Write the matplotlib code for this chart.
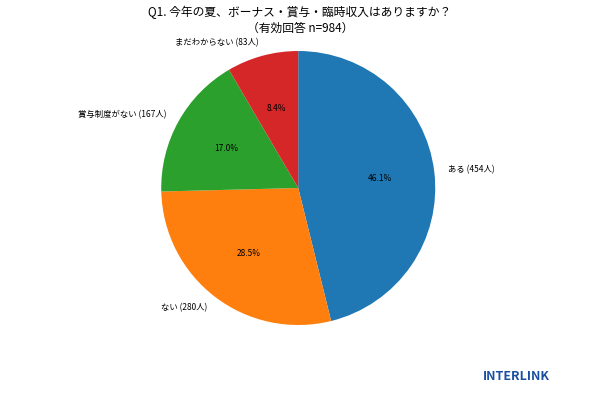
import matplotlib
matplotlib.use("Agg")
import matplotlib.pyplot as plt

plt.rcParams['font.family'] = ['Noto Sans CJK JP', 'DejaVu Sans']

labels = ["ある (454人)", "ない (280人)", "賞与制度がない (167人)", "まだわからない (83人)"]
values = [454, 280, 167, 83]
colors = ["#1f77b4", "#ff7f0e", "#2ca02c", "#d62728"]
title = "Q1. 今年の夏、ボーナス・賞与・臨時収入はありますか？\n（有効回答 n=984）"

fig = plt.figure(figsize=(6, 4), dpi=100)
ax = fig.add_axes([0.497 - 0.2283, 0.53 - 0.3425, 0.4567, 0.685])
ax.pie(values, labels=labels, colors=colors, autopct="%1.1f%%", startangle=90,
       counterclock=False, labeldistance=1.1, pctdistance=0.6,
       textprops={"fontsize": 6})
ax.set_xlim(-1, 1)
ax.set_ylim(-1, 1)
ax.set_aspect("equal")
fig.text(0.5, 0.985, title, ha="center", va="top", fontsize=8.5, linespacing=1.3)
fig.text(0.86, 0.06, "INTERLINK", ha="center", va="center", fontsize=9,
         fontweight="bold", style="italic", color="#1a4fa0")
fig.savefig("out.png", dpi=100, facecolor="white")
